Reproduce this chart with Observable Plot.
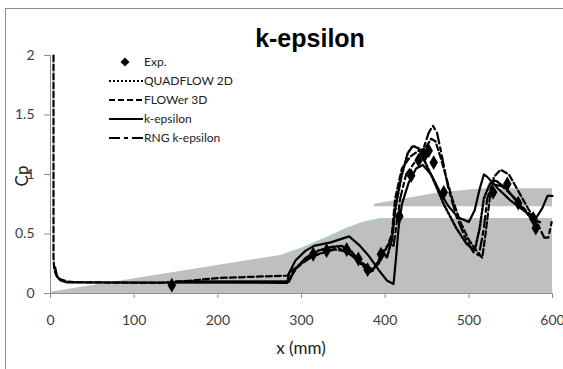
<!DOCTYPE html>
<html><head><meta charset="utf-8">
<script src="https://cdn.jsdelivr.net/npm/d3@7"></script>
<script src="https://cdn.jsdelivr.net/npm/@observablehq/plot@0.6"></script>
<style>
html,body{margin:0;padding:0;background:#fff;}
#wrap{position:relative;width:563px;height:369px;overflow:hidden;font-family:Lato,sans-serif;}
#box{position:absolute;left:5px;top:8px;width:600px;height:400px;border:1px solid #8c8c8c;box-sizing:border-box;}
#chart{position:absolute;left:0;top:0;}
#title{position:absolute;left:210px;width:200px;top:24px;text-align:center;font-family:"Liberation Sans",Arial,sans-serif;font-weight:bold;font-size:25px;color:#000;}
#ylab{position:absolute;left:21px;top:176px;transform:translate(-50%,-50%) rotate(-90deg);font-size:17px;color:#222;}
#xlab{position:absolute;left:301px;top:337px;transform:translateX(-50%);font-size:17px;color:#222;white-space:nowrap;}
#legend{position:absolute;left:108px;top:52px;font-size:12px;color:#222;}
.li{height:19px;display:flex;align-items:center;}
.li svg{width:36px;height:10px;}
g[aria-label="y-axis tick"], g[aria-label="x-axis tick"]{stroke:#8c8c8c;}
</style></head>
<body><div id="wrap"><div id="box"></div><div id="chart"></div>
<div id="title">k-epsilon</div><div id="ylab">Cp</div><div id="xlab">x (mm)</div>
<div id="legend"></div></div>
<script>
// Geometry (gray silhouette)
const geomLower = [[0,0.01],[275,0.32],[300,0.38],[330,0.47],[355,0.55],[375,0.6],[395,0.63],[600,0.63]];
const geomUpper = [[387,0.75],[420,0.79],[460,0.84],[500,0.87],[520,0.88],[600,0.88]];
const geomUpperBase = 0.73;
const geomEdge = [[275,0.32],[300,0.38],[330,0.47],[355,0.55],[375,0.6],[395,0.63],[420,0.63]];

// Experimental data
const expData = [[145,0.07],[314,0.33],[330,0.36],[354,0.37],[368,0.29],[379,0.2],[395,0.33],[417,0.65],[431,0.99],[440,1.12],[447,1.16],[452,1.2],[458,1.1],[470,0.85],[529,0.85],[546,0.92],[559,0.76],[577,0.63],[580,0.55]];

const quadflow2D = [[150,0.1],[285,0.1],[292,0.2],[305,0.3],[320,0.36],[335,0.39],[348,0.4],[360,0.35],[372,0.25],[382,0.18],[392,0.25],[398,0.35],[402,0.3],[408,0.45],[413,0.75],[420,1.0],[427,1.18],[433,1.24],[440,1.22],[448,1.1],[458,0.95],[470,0.75],[485,0.55],[497,0.42],[507,0.36],[513,0.55],[518,0.8],[525,0.92],[532,0.95],[545,0.88],[560,0.75],[575,0.63],[585,0.6]];

const flower3D = [[3.6,2.0],[3.6,0.3],[4.5,0.2],[7,0.15],[12,0.12],[20,0.1],[30,0.095],[100,0.09],[130,0.09],[145,0.095],[170,0.11],[200,0.13],[240,0.14],[283,0.15],[290,0.2],[305,0.28],[320,0.33],[340,0.37],[355,0.35],[370,0.27],[385,0.2],[395,0.3],[403,0.4],[408,0.5],[412,0.8],[420,1.05],[430,1.15],[440,1.2],[448,1.22],[455,1.3],[460,1.28],[466,1.15],[472,1.0],[480,0.8],[490,0.6],[500,0.45],[510,0.35],[516,0.3],[520,0.5],[525,0.8],[530,0.98],[538,1.04],[548,1.0],[560,0.85],[572,0.7],[582,0.6]];

const kEpsilon = [[5.5,0.22],[8,0.14],[12,0.11],[20,0.093],[283,0.09],[285,0.17],[293,0.28],[305,0.36],[315,0.4],[335,0.43],[357,0.48],[370,0.4],[380,0.32],[392,0.2],[402,0.11],[410,0.08],[413,0.3],[416,0.55],[420,0.75],[428,0.93],[437,1.05],[445,1.08],[455,1.0],[465,0.86],[475,0.74],[487,0.64],[500,0.6],[507,0.7],[513,0.88],[518,1.0],[522,0.98],[535,0.88],[550,0.78],[565,0.7],[580,0.63],[588,0.72],[594,0.82],[600,0.82]];

const rngKEpsilon = [[285,0.12],[295,0.22],[310,0.3],[330,0.36],[345,0.38],[360,0.32],[375,0.22],[385,0.19],[392,0.28],[400,0.38],[405,0.42],[410,0.4],[413,0.55],[418,0.8],[425,1.0],[435,1.1],[445,1.2],[452,1.35],[457,1.41],[462,1.35],[468,1.15],[475,0.9],[485,0.65],[495,0.48],[505,0.35],[512,0.32],[518,0.55],[522,0.8],[528,0.92],[540,0.9],[555,0.8],[568,0.7],[580,0.62],[590,0.47],[595,0.47],[599,0.6]];

const xTicks = [0,100,200,300,400,500,600];
const yTicks = [0,0.5,1,1.5,2];
const legendItems = ["Exp.","QUADFLOW 2D","FLOWer 3D","k-epsilon","RNG k-epsilon"];

const lw = 2.2;
const chart = Plot.plot({
  width: 563, height: 369,
  marginLeft: 50, marginRight: 11, marginTop: 55, marginBottom: 76,
  style: {fontFamily: "Lato, sans-serif", fontSize: "14px", color: "#404040", background: "transparent", overflow: "visible"},
  x: {domain: [0,600], ticks: xTicks},
  y: {domain: [0,2], ticks: yTicks},
  marks: [
    Plot.areaY(geomLower, {x: d=>d[0], y1: 0, y2: d=>d[1], fill: "#bfbfbf"}),
    Plot.areaY(geomUpper, {x: d=>d[0], y1: geomUpperBase, y2: d=>d[1], fill: "#bfbfbf"}),
    Plot.line(geomEdge, {x: d=>d[0], y: d=>d[1], stroke: "#9fd6c8", strokeWidth: 1}),
    Plot.ruleY([0], {stroke: "#8c8c8c"}),
    Plot.ruleX([0], {stroke: "#8c8c8c"}),
    Plot.axisX({ticks: xTicks, tickSize: 5, tickPadding: 17, label: null, tickFormat: d=>String(d)}),
    Plot.axisY({ticks: yTicks, tickSize: 6, tickPadding: 10, label: null, tickFormat: d=>String(d)}),
    Plot.line(quadflow2D, {x: d=>d[0], y: d=>d[1], stroke: "#000", strokeWidth: 2.5, strokeDasharray: "2,2"}),
    Plot.line(flower3D, {x: d=>d[0], y: d=>d[1], stroke: "#000", strokeWidth: lw, strokeDasharray: "6,3"}),
    Plot.line(kEpsilon, {x: d=>d[0], y: d=>d[1], stroke: "#000", strokeWidth: lw}),
    Plot.line(rngKEpsilon, {x: d=>d[0], y: d=>d[1], stroke: "#000", strokeWidth: lw, strokeDasharray: "11,4,4,4"}),
    Plot.dot(expData, {x: d=>d[0], y: d=>d[1], symbol: "diamond", r: 4.5, fill: "#000"})
  ]
});
document.getElementById("chart").appendChild(chart);

const dashes = [null, "2,2", "6,3", null, "11,4,4,4"];
const leg = document.getElementById("legend");
legendItems.forEach((name, i) => {
  const row = document.createElement("div");
  row.className = "li";
  let sw;
  if (i === 0) {
    sw = `<svg viewBox="0 0 36 10"><path d="M17,0.5 L21.5,5 L17,9.5 L12.5,5 Z" fill="#000"/></svg>`;
  } else {
    sw = `<svg viewBox="0 0 36 10"><line x1="1" y1="5" x2="35" y2="5" stroke="#000" stroke-width="2"${dashes[i] ? ` stroke-dasharray="${dashes[i]}"` : ""}/></svg>`;
  }
  row.innerHTML = sw + `<span>${name}</span>`;
  leg.appendChild(row);
});
</script></body></html>
